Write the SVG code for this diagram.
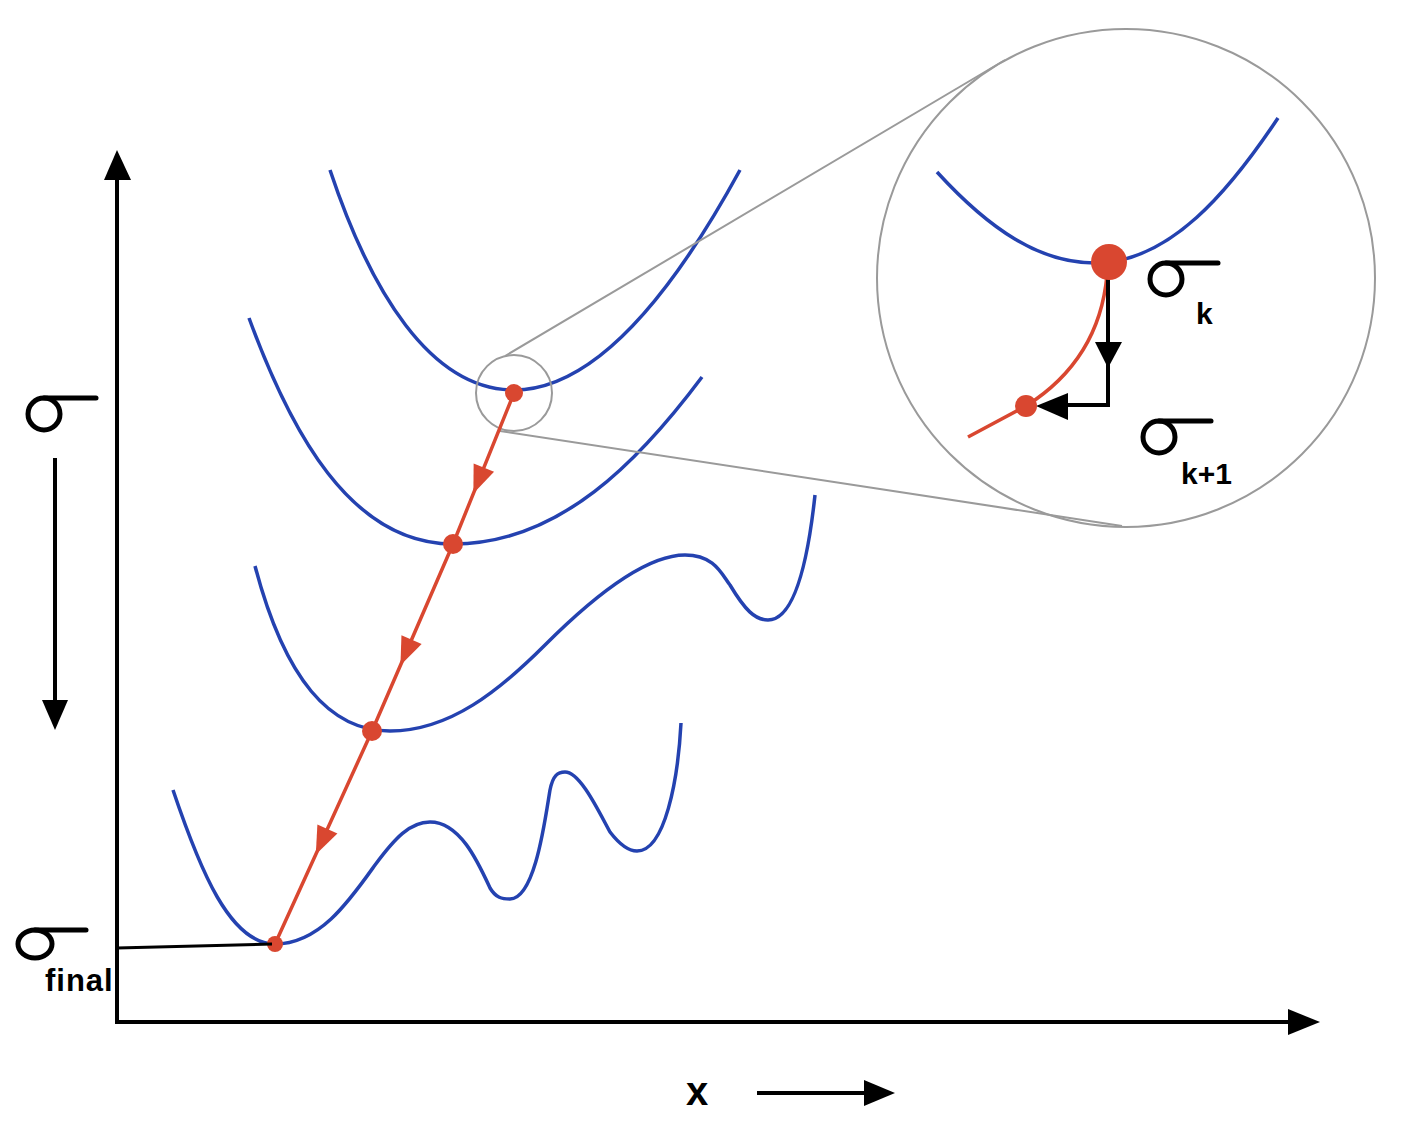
<svg xmlns="http://www.w3.org/2000/svg" xmlns:xlink="http://www.w3.org/1999/xlink" width="1427" height="1138" viewBox="0 0 1427 1138">
<style>
.ax{stroke:#000;stroke-width:4;fill:none}
.blue{stroke:#2442b0;stroke-width:3.5;fill:none}
.red{stroke:#d94730;stroke-width:3.5;fill:none}
.dot{fill:#d94730}
.gray{stroke:#9a9a9a;stroke-width:2;fill:none}
.sig{stroke:#000;stroke-width:5;fill:none;stroke-linecap:round}
.lbl{font-family:"Liberation Sans",Arial,sans-serif;font-weight:bold;font-size:30px;fill:#000}
</style>
<defs>
<path id="rtri" d="M-14,-11 L14,0 L-14,11 Z" fill="#d94730"/>
</defs>
<rect width="1427" height="1138" fill="#fff"/>
<g id="axes">
<line class="ax" x1="117" y1="1022" x2="117" y2="180"/>
<path d="M104,180 L117,150 L131,180 Z" fill="#000"/>
<line class="ax" x1="115" y1="1022" x2="1290" y2="1022"/>
<path d="M1288,1009 L1320,1022 L1288,1035 Z" fill="#000"/>
</g>
<g id="curves">
<path class="blue" d="M330,170 C370,290 430,390 514,390 C600,390 680,280 740,170"/>
<path class="blue" d="M249,318 C290,430 350,544 453,544 C560,544 640,460 702,377"/>
<path class="blue" d="M255,566 C285,680 330,731 390,731 C450,731 500,690 545,645 C600,590 650,555 685,555 C715,555 722,575 730,585 C745,610 755,620 768,620 C795,620 808,560 815,495"/>
<path class="blue" d="M173,790 C200,870 230,944 275,944 C320,944 350,900 375,865 C395,838 410,822 430,822 C460,822 478,862 490,888 C496,898 502,899 510,899 C535,899 545,820 550,790 C553,775 558,772 565,772 C580,772 598,810 610,832 C620,845 628,851 637,851 C665,851 678,780 681,723"/>
</g>
<g id="magnifier">
<circle class="gray" cx="514" cy="393" r="38"/>
<circle class="gray" cx="1126" cy="278" r="249"/>
<line class="gray" x1="505" y1="356" x2="1005" y2="60"/>
<line class="gray" x1="500" y1="431" x2="1122" y2="526"/>
</g>
<g id="path">
<polyline class="red" points="514,393 453,544 372,731 275,944"/>
<use xlink:href="#rtri" transform="translate(478.6,480.6) rotate(112)"/>
<use xlink:href="#rtri" transform="translate(406,652.5) rotate(113.4)"/>
<use xlink:href="#rtri" transform="translate(321.6,841.8) rotate(114.5)"/>
<circle class="dot" cx="514" cy="393" r="9"/>
<circle class="dot" cx="453" cy="544" r="10"/>
<circle class="dot" cx="372" cy="731" r="10"/>
<circle class="dot" cx="275" cy="944" r="8"/>
<line class="ax" x1="117" y1="948" x2="272" y2="944" style="stroke-width:3"/>
</g>
<g id="inset">
<path class="blue" d="M937,172 C990,230 1040,263 1095,263 C1170,263 1230,190 1278,118"/>
<path class="red" d="M1107,275 C1102,330 1075,375 1026,406 L968,437"/>
<line class="ax" x1="1108" y1="278" x2="1108" y2="345"/>
<path d="M1095,342 L1108,368 L1122,342 Z" fill="#000"/>
<polyline class="ax" points="1108,360 1108,405 1065,405"/>
<path d="M1068,393 L1036,406 L1068,420 Z" fill="#000"/>
<circle class="dot" cx="1109" cy="262" r="18"/>
<circle class="dot" cx="1026" cy="406" r="11"/>
</g>
<g id="sigma-left">
<circle class="sig" cx="44" cy="414" r="16"/>
<line class="sig" x1="44" y1="398" x2="96" y2="398"/>
<line class="ax" x1="55" y1="458" x2="55" y2="702"/>
<path d="M42,700 L55,730 L68,700 Z" fill="#000"/>
</g>
<g id="sigma-final">
<ellipse class="sig" cx="35" cy="944" rx="17" ry="14"/>
<line class="sig" x1="35" y1="930" x2="86" y2="930"/>
<text class="lbl" x="45" y="991" style="font-size:31px;letter-spacing:1px">final</text>
</g>
<g id="sigma-k">
<circle class="sig" cx="1166" cy="279" r="16"/>
<line class="sig" x1="1166" y1="263" x2="1218" y2="263"/>
<text class="lbl" x="1196" y="324">k</text>
</g>
<g id="sigma-k1">
<circle class="sig" cx="1159" cy="437" r="16"/>
<line class="sig" x1="1159" y1="421" x2="1211" y2="421"/>
<text class="lbl" x="1181" y="484">k+1</text>
</g>
<g id="x-label">
<text class="lbl" x="686" y="1105" style="font-size:40px">x</text>
<line class="ax" x1="757" y1="1093" x2="868" y2="1093"/>
<path d="M864,1080 L895,1093 L864,1106 Z" fill="#000"/>
</g>
</svg>
